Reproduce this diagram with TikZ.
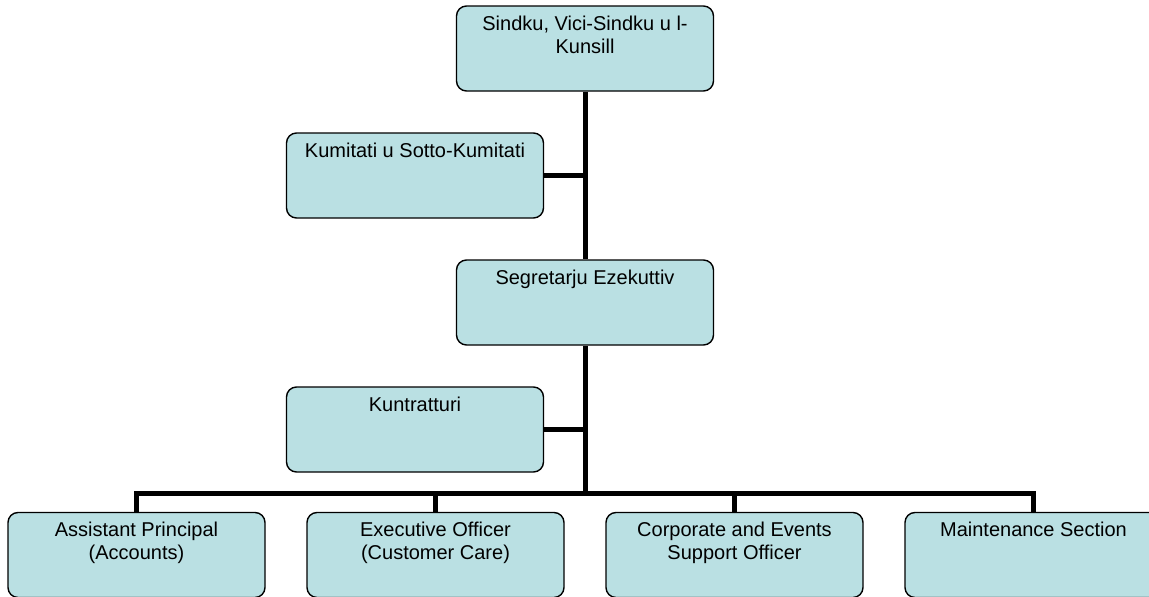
\documentclass[tikz,border=0pt]{standalone}
\usepackage{fontspec}
\setmainfont{Liberation Sans}
\usepackage{tikz}
\usetikzlibrary{positioning,calc}
\definecolor{unitfill}{RGB}{186,224,227}
\newcommand{\unittext}[1]{\parbox[c][85pt][t]{250pt}{\centering\vspace*{10pt}#1\par}}

\begin{document}
\begin{tikzpicture}[x=1pt,y=1pt,font=\fontsize{20}{23}\selectfont,
  unit/.style={draw=black,line width=1.4pt,rounded corners=10pt,fill=unitfill,
    minimum width=257pt,minimum height=85pt,inner sep=0pt},
  link/.style={line width=5pt,line join=miter}]
\useasboundingbox (0,0) rectangle (1149,-597);
% council at the top, committees and secretary below it
\node[unit] (council) at (585,-48.5) {\unittext{Sindku, Vici-Sindku u l-\\Kunsill}};
\node[unit] (committees) at (415,-175.5) {\unittext{Kumitati u Sotto-Kumitati}};
\node[unit] (secretary) at (585,-302.5) {\unittext{Segretarju Ezekuttiv}};
\node[unit] (contractors) at (415,-429.5) {\unittext{Kuntratturi}};
% bottom row of sections
\node[unit] (accounts) at (136.5,-555) {\unittext{Assistant Principal\\(Accounts)}};
\node[unit] (customer) at (435.5,-555) {\unittext{Executive Officer\\(Customer Care)}};
\node[unit] (events) at (734.5,-555) {\unittext{Corporate and Events\\Support Officer}};
\node[unit] (maintenance) at (1033.5,-555) {\unittext{Maintenance Section}};
\coordinate (bus) at (585,-493);
% trunk and branches
\draw[link] (council.south) -- (secretary.north);
\draw[link] (secretary.south) -- (bus);
\draw[link] (committees.east) -- (committees.east -| council.south);
\draw[link] (contractors.east) -- (contractors.east -| secretary.south);
\draw[link] (accounts.north) |- (bus) -| (maintenance.north);
\draw[link] (customer.north) -- (customer.north |- bus);
\draw[link] (events.north) -- (events.north |- bus);
\end{tikzpicture}
\end{document}
